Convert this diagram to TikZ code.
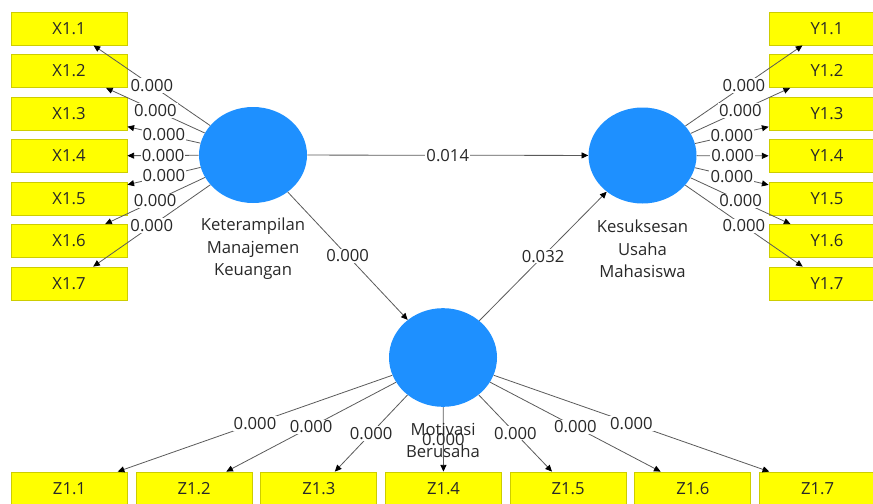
\documentclass[tikz,border=0pt]{standalone}
\usepackage{fontspec}
\setmainfont{Open Sans}
\usetikzlibrary{arrows.meta,shapes.geometric}
\definecolor{lvblue}{RGB}{30,144,255}
\definecolor{indy}{RGB}{255,255,0}
\definecolor{indb}{RGB}{205,205,0}
\definecolor{edgec}{RGB}{90,90,90}
\definecolor{txt}{RGB}{40,40,40}
\begin{document}
\begin{tikzpicture}[x=0.75pt,y=-0.75pt,
  lv/.style={ellipse,fill=lvblue,inner sep=0pt,minimum width=81pt,minimum height=72pt},
  ind/.style={rectangle,fill=indy,draw=indb,line width=0.6pt,minimum width=87pt,minimum height=24.75pt,inner sep=0pt,font=\fontsize{12.5}{15}\selectfont,text=txt},
  con/.style={draw=edgec,line width=0.6pt,-{Triangle[length=5pt,width=4.5pt,color=black]}},
  lbl/.style={fill=white,inner sep=0.8pt,font=\fontsize{12.5}{15}\selectfont,text=txt},
  lvname/.style={align=center,font=\fontsize{12.5}{16.9}\selectfont,text=txt}]
\useasboundingbox (0,0) rectangle (873,503);
% latent variables
\node[lv] (K) at (253,155) {};
\node[lv] (S) at (642.5,155.5) {};
\node[lv,minimum height=74pt] (M) at (443,357.5) {};
% indicators
\foreach \i in {1,...,7}{
  \node[ind] (X\i) at (69,{28.5+42.5*(\i-1)}) {X1.\i};
  \node[ind] (Y\i) at (827,{28.5+42.5*(\i-1)}) {Y1.\i};
  \node[ind] (Z\i) at ({69.5+124.67*(\i-1)},488.5) {Z1.\i};
}
% connectors
\foreach \i in {1,...,7}{
  \draw[con] (K) -- (X\i);
  \draw[con] (S) -- (Y\i);
  \draw[con] (M) -- (Z\i);
}
\draw[con] (K) -- (S);
\draw[con] (K) -- (M);
\draw[con] (M) -- (S);
% labels
\foreach \i in {1,...,7}{
  \path (K) -- node[lbl]{0.000} (X\i);
  \path (S) -- node[lbl]{0.000} (Y\i);
}
\foreach \i in {1,2,3,5,6,7}{
  \path (M) -- node[lbl]{0.000} (Z\i);
}
\path (M) -- node[lbl,fill=none]{0.000} (Z4);
\path (K) -- node[lbl]{0.014} (S);
\path (K) -- node[lbl]{0.000} (M);
\path (M) -- node[lbl]{0.032} (S);
% latent variable names
\node[lvname] (Kt) at (253,249) {Keterampilan\\Manajemen\\Keuangan};
\node[lvname] (St) at (642.5,249) {Kesuksesan\\Usaha\\Mahasiswa};
\node[lvname] (Mt) at (443,440.5) {Motivasi\\Berusaha};
\end{tikzpicture}
\end{document}
